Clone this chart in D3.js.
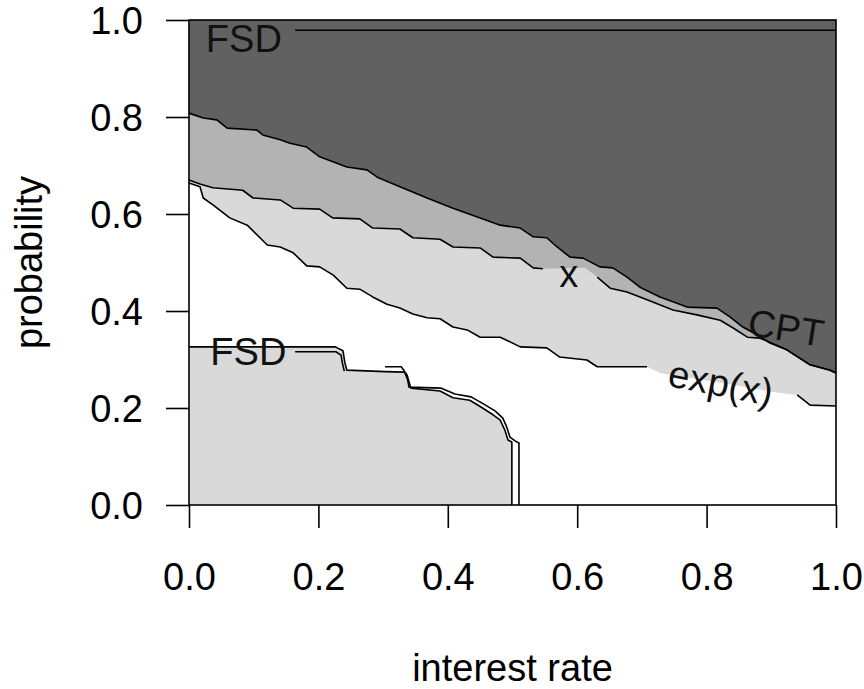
<!DOCTYPE html>
<html><head><meta charset="utf-8">
<script src="https://cdn.jsdelivr.net/npm/d3@7"></script>
<style>body{margin:0;background:#fff} svg{display:block}</style>
</head><body><svg id="c" width="864" height="689"></svg>
<script>
// ---- data ----
const rateTicks = [0, 0.2, 0.4, 0.6, 0.8, 1.0];
const probTicks = [0, 0.2, 0.4, 0.6, 0.8, 1.0];

// CPT boundary (dark region above)
const cptRate = [0, .022, .043, .059, .105, .114, .141, .156, .182, .202, .244, .275, .291, .326, .368, .408, .450, .481, .512, .532, .553, .569, .589, .609, .635, .655, .677, .697, .728, .770, .816, .836, .856, .878, .898, .924, .960, .991, 1.0];
const cptProb = [.808, .798, .794, .777, .773, .763, .753, .746, .738, .718, .697, .691, .676, .656, .633, .612, .592, .577, .571, .553, .551, .532, .511, .509, .491, .489, .470, .449, .429, .408, .406, .388, .367, .351, .334, .320, .289, .278, .272];

// "x" boundary (medium region above)
const midRate = [0, .017, .037, .083, .099, .141, .161, .202, .222, .264, .284, .326, .346, .388, .408, .450, .470, .512, .532, .547, .612, .631, .651, .677, .708, .748, .785, .821, .841, .863, .883, .924, .960, .991, 1.0];
const midProb = [.670, .662, .654, .649, .633, .629, .612, .610, .592, .590, .571, .569, .551, .548, .532, .530, .511, .509, .489, .487, .489, .470, .447, .439, .423, .402, .392, .381, .365, .346, .344, .320, .289, .278, .272];

// "exp(x)" boundary (light region above)
const expRate = [0, .017, .022, .037, .063, .090, .121, .141, .161, .182, .202, .223, .244, .264, .284, .306, .326, .346, .368, .388, .408, .430, .450, .481, .512, .553, .573, .615, .631, .708, .728, .821, .913, .940, .960, 1.0];
const expProb = [.664, .656, .633, .619, .592, .577, .536, .532, .520, .493, .491, .474, .447, .445, .429, .414, .406, .394, .386, .384, .367, .361, .346, .346, .326, .324, .305, .299, .285, .285, .272, .252, .231, .227, .206, .204];

// FSD lower region (two nearly coincident contours)
const fsd1Rate = [0, .226, .238, .241, .244, .303, .334, .337, .343, .388, .408, .434, .450, .470, .481, .488, .493, .499, .499];
const fsd1Prob = [.326, .326, .318, .293, .278, .275, .274, .268, .241, .235, .221, .216, .203, .186, .175, .155, .134, .130, 0];
const fsd2aRate = [.164, .227, .235, .237, .240];
const fsd2aProb = [.316, .316, .309, .293, .276];
const fsd2bRate = [.303, .328, .332, .338, .340, .389, .411, .436, .453, .473, .485, .491, .496, .504, .510, .510];
const fsd2bProb = [.285, .285, .278, .258, .243, .241, .229, .223, .210, .194, .179, .161, .140, .132, .128, 0];

// FSD upper line
const fsdTopRate = [.164, 1.0];
const fsdTopProb = [.979, .979];

// label gaps on contour lines (rate ranges)
const midGap = [0.55, 0.625];
const expGap = [0.71, 0.935];

// annotations
const labelText = ["FSD", "FSD", "x", "CPT", "exp(x)"];
const labelRate = [.026, .033, .587, .923, .821];
const labelProb = [.934, .289, .449, .366, .245];
const labelRot  = [0, 0, 0, 9, 11];

// ---- drawing ----
const zip = (r, p) => r.map((v, i) => ({r: v, p: p[i]}));
const svg = d3.select("#c");
const x = d3.scaleLinear().domain([0, 1]).range([189, 836]);
const y = d3.scaleLinear().domain([0, 1]).range([505, 20]);
const FONT = "'Liberation Sans', Arial, Helvetica, sans-serif";

const areaAbove = d3.area().x(d => x(d.r)).y0(y(1)).y1(d => y(d.p));
const areaBelow = d3.area().x(d => x(d.r)).y0(y(0)).y1(d => y(d.p));
const line = d3.line().x(d => x(d.r)).y(d => y(d.p));
const gapLine = g => d3.line().defined(d => !(d.r > g[0] && d.r < g[1])).x(d => x(d.r)).y(d => y(d.p));

const cpt = zip(cptRate, cptProb), mid = zip(midRate, midProb), ex = zip(expRate, expProb);
const f1 = zip(fsd1Rate, fsd1Prob);

svg.append("path").attr("d", areaAbove(ex)).attr("fill", "#d9d9d9");
svg.append("path").attr("d", areaAbove(mid)).attr("fill", "#b3b3b3");
svg.append("path").attr("d", areaAbove(cpt)).attr("fill", "#616161");
svg.append("path").attr("d", areaBelow(f1)).attr("fill", "#d9d9d9");

const lines = svg.append("g").attr("fill", "none").attr("stroke", "#000").attr("stroke-width", 1.6).attr("stroke-linejoin", "round");
lines.append("path").attr("d", line(cpt));
lines.append("path").attr("d", gapLine(midGap)(mid));
lines.append("path").attr("d", gapLine(expGap)(ex));
lines.append("path").attr("d", line(f1));
lines.append("path").attr("d", line(zip(fsd2aRate, fsd2aProb)));
lines.append("path").attr("d", line(zip(fsd2bRate, fsd2bProb)));
lines.append("path").attr("d", line(zip(fsdTopRate, fsdTopProb)));

// labels
labelText.forEach((t, i) => {
  const g = svg.append("g").attr("transform", `translate(${x(labelRate[i])},${y(labelProb[i])}) rotate(${labelRot[i]})`);
  const rotated = labelRot[i] !== 0;
  g.append("text").text(t)
    .attr("font-family", FONT).attr("font-size", 38).attr("fill", "#111")
    .attr("text-anchor", (i < 2) ? "start" : "middle")
    .attr("dy", rotated ? (t === "CPT" ? "0.36em" : "0.26em") : 0);
});

// box
svg.append("rect").attr("x", x(0)).attr("y", y(1)).attr("width", x(1) - x(0)).attr("height", y(0) - y(1))
  .attr("fill", "none").attr("stroke", "#000").attr("stroke-width", 1.6);

// axes
const gx = svg.append("g").attr("transform", `translate(0,${y(0)})`)
  .call(d3.axisBottom(x).tickValues(rateTicks).tickFormat(d3.format(".1f")).tickSize(23).tickSizeOuter(0));
gx.select(".domain").remove();
gx.selectAll("line").attr("stroke", "#000").attr("stroke-width", 1.6);
gx.selectAll("text").attr("y", 85).attr("dy", null).attr("fill", "#000")
  .attr("font-size", 38).attr("font-family", FONT);

const gy = svg.append("g").attr("transform", `translate(${x(0)},0)`)
  .call(d3.axisLeft(y).tickValues(probTicks).tickFormat(d3.format(".1f")).tickSize(23).tickSizeOuter(0));
gy.select(".domain").remove();
gy.selectAll("line").attr("stroke", "#000").attr("stroke-width", 1.6);
gy.selectAll("text").attr("x", -46).attr("dy", "0.36em").attr("fill", "#000")
  .attr("font-size", 38).attr("font-family", FONT);

// axis titles
svg.append("text").text("interest rate").attr("x", (x(0) + x(1)) / 2).attr("y", 681)
  .attr("text-anchor", "middle").attr("font-size", 38).attr("font-family", FONT).attr("fill", "#000");
svg.append("text").text("probability")
  .attr("transform", `translate(42,${(y(0) + y(1)) / 2}) rotate(-90)`)
  .attr("text-anchor", "middle").attr("font-size", 38).attr("font-family", FONT).attr("fill", "#000");
</script></body></html>
